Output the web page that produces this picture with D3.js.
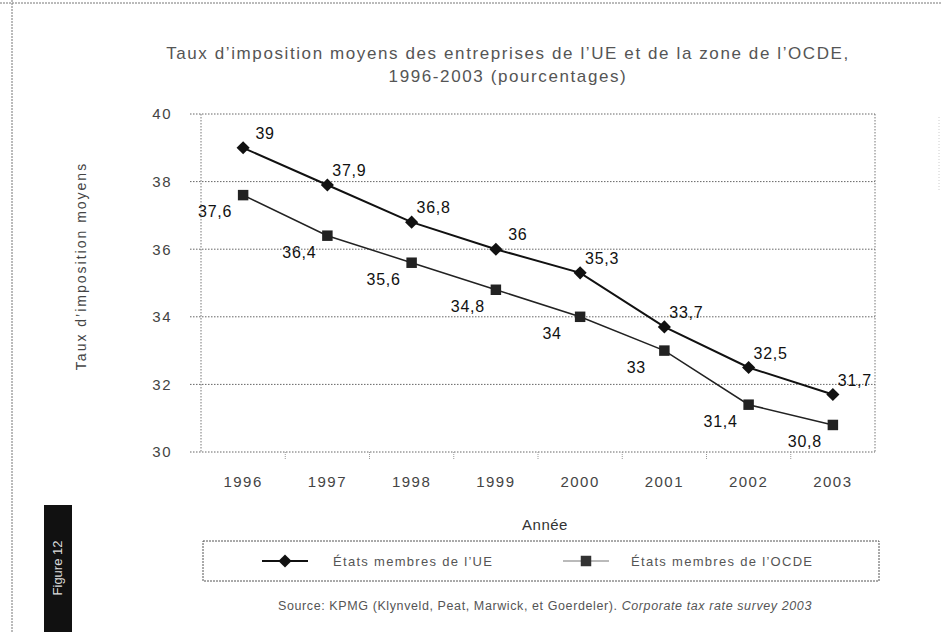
<!DOCTYPE html>
<html>
<head>
<meta charset="utf-8">
<script src="https://cdn.jsdelivr.net/npm/d3@7"></script>
<style>
  body { margin: 0; background: #fff; }
  svg { display: block; font-family: "Liberation Sans", Arial, sans-serif; }
</style>
</head>
<body>
<svg id="chart" width="941" height="632"></svg>
<script>
// data
var years = ["1996", "1997", "1998", "1999", "2000", "2001", "2002", "2003"];
var ueValues = [39, 37.9, 36.8, 36, 35.3, 33.7, 32.5, 31.7];
var ocdeValues = [37.6, 36.4, 35.6, 34.8, 34, 33, 31.4, 30.8];
var yTicks = [30, 32, 34, 36, 38, 40];
var seriesNames = ["États membres de l\u2019UE", "États membres de l\u2019OCDE"];

var margin = {top: 114, right: 66, bottom: 180, left: 201},
    width = 941 - margin.left - margin.right,
    height = 632 - margin.top - margin.bottom;

var svg = d3.select("#chart");

var x = d3.scaleBand().domain(years).range([0, width]);
var y = d3.scaleLinear().domain([30, 40]).range([height, 0]);
var cx = function(d, i) { return x(years[i]) + x.bandwidth() / 2; };
var fmt = function(v) { return String(v).replace(".", ","); };

// page decorations of the scan
svg.append("line")
    .attr("x1", 0).attr("x2", 941).attr("y1", 3).attr("y2", 3)
    .attr("stroke", "#777").attr("stroke-dasharray", "2,1");
svg.append("line")
    .attr("x1", 12).attr("x2", 12).attr("y1", 0).attr("y2", 632)
    .attr("stroke", "#777").attr("stroke-dasharray", "2,1");
svg.append("line")
    .attr("x1", 939).attr("x2", 939).attr("y1", 117).attr("y2", 190)
    .attr("stroke", "#ccc").attr("stroke-dasharray", "1,2");
svg.append("rect")
    .attr("x", 44).attr("y", 505).attr("width", 28).attr("height", 127)
    .attr("fill", "#111");
svg.append("text")
    .attr("transform", "translate(62,568) rotate(-90)")
    .attr("text-anchor", "middle")
    .attr("fill", "#ddd").attr("font-size", 13)
    .text("Figure 12");

// title
var title = svg.append("text")
    .attr("text-anchor", "middle")
    .attr("fill", "#555").attr("font-size", 17)
    .attr("letter-spacing", 1.6);
title.append("tspan").attr("x", 508).attr("y", 59)
    .text("Taux d\u2019imposition moyens des entreprises de l\u2019UE et de la zone de l\u2019OCDE,");
title.append("tspan").attr("x", 508).attr("y", 82)
    .text("1996-2003 (pourcentages)");

var g = svg.append("g")
    .attr("transform", "translate(" + margin.left + "," + margin.top + ")");

// grid
g.selectAll("line.grid").data(yTicks).enter().append("line")
    .attr("class", "grid")
    .attr("x1", -11).attr("x2", width)
    .attr("y1", function(d) { return y(d); })
    .attr("y2", function(d) { return y(d); })
    .attr("stroke", "#666").attr("stroke-width", 1)
    .attr("stroke-dasharray", "1.5,1.5");

g.append("line")
    .attr("x1", 0).attr("x2", 0).attr("y1", 0).attr("y2", height)
    .attr("stroke", "#777").attr("stroke-dasharray", "1.5,1.5");
g.append("line")
    .attr("x1", width).attr("x2", width).attr("y1", 0).attr("y2", height)
    .attr("stroke", "#777").attr("stroke-dasharray", "1.5,1.5");

// y axis labels
var yAxis = d3.axisLeft(y).tickValues(yTicks).tickSize(0).tickPadding(29);
g.append("g").call(yAxis)
    .call(function(a) { a.select(".domain").remove(); })
    .selectAll("text")
    .attr("font-size", 15).attr("fill", "#444")
    .attr("letter-spacing", 1.5)
    .attr("font-family", "Liberation Sans, Arial, sans-serif");

// x axis labels and small boundary ticks
var xAxis = d3.axisBottom(x).tickSize(0).tickPadding(24);
g.append("g").attr("transform", "translate(0," + height + ")").call(xAxis)
    .call(function(a) { a.select(".domain").remove(); })
    .selectAll("text")
    .attr("font-size", 15).attr("fill", "#444")
    .attr("letter-spacing", 1.5)
    .attr("font-family", "Liberation Sans, Arial, sans-serif");

g.selectAll("line.xtick").data(years.slice(1)).enter().append("line")
    .attr("class", "xtick")
    .attr("x1", function(d) { return x(d); })
    .attr("x2", function(d) { return x(d); })
    .attr("y1", height).attr("y2", height + 7)
    .attr("stroke", "#999").attr("stroke-dasharray", "1,1");

// axis titles
svg.append("text")
    .attr("transform", "translate(86,266) rotate(-90)")
    .attr("text-anchor", "middle")
    .attr("font-size", 14).attr("fill", "#444")
    .attr("letter-spacing", 2)
    .text("Taux d\u2019imposition moyens");

svg.append("text")
    .attr("x", 545).attr("y", 530)
    .attr("text-anchor", "middle")
    .attr("font-size", 15).attr("fill", "#333")
    .attr("letter-spacing", 0.5)
    .text("Année");

// series
var line = d3.line()
    .x(cx)
    .y(function(d) { return y(d); });

g.append("path").datum(ocdeValues)
    .attr("d", line)
    .attr("fill", "none").attr("stroke", "#222").attr("stroke-width", 1.5);
g.append("path").datum(ueValues)
    .attr("d", line)
    .attr("fill", "none").attr("stroke", "#111").attr("stroke-width", 2);

var diamond = d3.symbol().type(d3.symbolDiamond2).size(110);
var square = d3.symbol().type(d3.symbolSquare).size(110);

g.selectAll("path.ue").data(ueValues).enter().append("path")
    .attr("class", "ue")
    .attr("d", diamond)
    .attr("transform", function(d, i) { return "translate(" + cx(d, i) + "," + y(d) + ")"; })
    .attr("fill", "#111");

g.selectAll("path.ocde").data(ocdeValues).enter().append("path")
    .attr("class", "ocde")
    .attr("d", square)
    .attr("transform", function(d, i) { return "translate(" + cx(d, i) + "," + y(d) + ")"; })
    .attr("fill", "#222");

// value labels: UE above right, OCDE below left
g.selectAll("text.lue").data(ueValues).enter().append("text")
    .attr("class", "lue")
    .attr("x", function(d, i) { return cx(d, i) + 22; })
    .attr("y", function(d) { return y(d) - 9; })
    .attr("text-anchor", "middle")
    .attr("font-size", 16).attr("fill", "#111")
    .attr("letter-spacing", 0.8)
    .text(fmt);

g.selectAll("text.locde").data(ocdeValues).enter().append("text")
    .attr("class", "locde")
    .attr("x", function(d, i) { return cx(d, i) - 28; })
    .attr("y", function(d) { return y(d) + 22; })
    .attr("text-anchor", "middle")
    .attr("font-size", 16).attr("fill", "#111")
    .attr("letter-spacing", 0.8)
    .text(fmt);

// legend
var legend = svg.append("g");
legend.append("rect")
    .attr("x", 203).attr("y", 541).attr("width", 676).attr("height", 40)
    .attr("fill", "none").attr("stroke", "#555").attr("stroke-dasharray", "2,1");

var lx = [262, 563], tx = [333, 631];
legend.append("line")
    .attr("x1", lx[0]).attr("x2", lx[0] + 46).attr("y1", 561).attr("y2", 561)
    .attr("stroke", "#111").attr("stroke-width", 2);
legend.append("path").attr("d", diamond)
    .attr("transform", "translate(" + (lx[0] + 23) + ",561)").attr("fill", "#111");
legend.append("line")
    .attr("x1", lx[1]).attr("x2", lx[1] + 46).attr("y1", 561).attr("y2", 561)
    .attr("stroke", "#777").attr("stroke-width", 1.2);
legend.append("path").attr("d", square)
    .attr("transform", "translate(" + (lx[1] + 23) + ",561)").attr("fill", "#333");

legend.selectAll("text").data(seriesNames).enter().append("text")
    .attr("x", function(d, i) { return tx[i]; })
    .attr("y", 566)
    .attr("font-size", 13).attr("fill", "#555")
    .attr("letter-spacing", 1.3)
    .text(function(d) { return d; });

// source
var src = svg.append("text")
    .attr("x", 545).attr("y", 610)
    .attr("text-anchor", "middle")
    .attr("font-size", 12.5).attr("fill", "#555")
    .attr("letter-spacing", 0.6);
src.append("tspan").text("Source: KPMG (Klynveld, Peat, Marwick, et Goerdeler). ");
src.append("tspan").attr("font-style", "italic").text("Corporate tax rate survey 2003");
</script>
</body>
</html>
